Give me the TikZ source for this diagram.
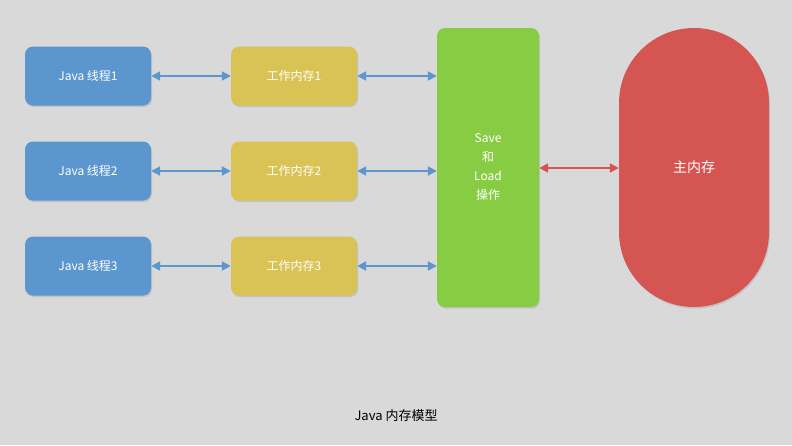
\documentclass[tikz,border=0pt]{standalone}
\usepackage{fontspec}
\setmainfont{Noto Sans CJK SC}
\usetikzlibrary{arrows.meta,shadows}
\definecolor{bg}{HTML}{D9D9D9}
\definecolor{bl}{HTML}{5B97CE}
\definecolor{yl}{HTML}{D9C355}
\definecolor{gr}{HTML}{88CC44}
\definecolor{rd}{HTML}{D55553}
\tikzset{
 box/.style={rounded corners=8pt,minimum width=126pt,minimum height=59pt,text=white,font=\fontsize{12}{14}\selectfont,drop shadow={shadow xshift=1pt,shadow yshift=-1.5pt,opacity=0.25}},
 conn/.style={line width=2pt,{Triangle[length=9pt,width=9pt]}-{Triangle[length=9pt,width=9pt]}},
}
\begin{document}
\begin{tikzpicture}[x=1pt,y=-1pt]
\fill[bg] (0,0) rectangle (792,445);
\useasboundingbox (0,0) rectangle (792,445);
\foreach \i/\y in {1/76,2/171,3/266}{
 \node[box,fill=bl] (t\i) at (88,\y) {Java 线程\i};
 \node[box,fill=yl] (w\i) at (294,\y) {工作内存\i};
}
\node[box,fill=gr,minimum width=102pt,minimum height=279pt,align=center,font=\fontsize{12}{19}\selectfont] (s) at (488,167.5) {Save\\和\\Load\\操作};
\node[box,fill=rd,minimum width=150pt,minimum height=279pt,rounded corners=75pt] (m) at (694,167.5) {\fontsize{14}{16}\selectfont 主内存};
\foreach \i in {1,2,3}{
 \draw[conn,bl] (t\i.east) -- (w\i.west);
 \draw[conn,bl] (w\i.east) -- (s.west |- w\i.east);
}
\draw[conn,rd] (s.east |- 0,168) -- (m.west |- 0,168);
\node[font=\fontsize{13}{15}\selectfont] (title) at (396,416) {Java 内存模型};
\end{tikzpicture}
\end{document}
